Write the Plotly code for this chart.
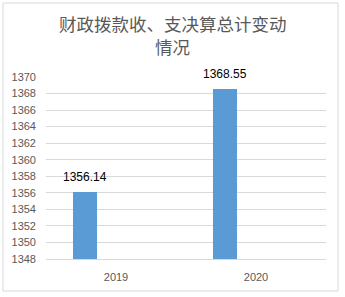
import plotly.graph_objects as go

categories = ["2019", "2020"]
values = [1356.14, 1368.55]
labels = ["1356.14", "1368.55"]
title_lines = ["财政拨款收、支决算总计变动", "情况"]
y_ticks = list(range(1348, 1371, 2))

BAR_WIDTH = 0.171
BAR_OFFSET = -0.307

fig = go.Figure()
fig.add_trace(go.Bar(
    x=categories, y=values,
    width=BAR_WIDTH, offset=BAR_OFFSET,
    marker=dict(color="#5B9BD5", line=dict(width=0)),
    hoverinfo="skip",
))

for i, (v, t) in enumerate(zip(values, labels)):
    fig.add_annotation(
        x=i + BAR_OFFSET + BAR_WIDTH / 2, y=v, xref="x", yref="y",
        text=t, showarrow=False, yshift=15, yanchor="middle",
        font=dict(size=12, color="#000000", family="Liberation Sans, Arial, sans-serif"),
    )

for line, ypx in zip(title_lines, [24, 47]):
    fig.add_annotation(
        x=(172.5 - 46) / 280, y=(259 - ypx) / 182, xref="paper", yref="paper",
        xanchor="center", yanchor="middle", showarrow=False, borderpad=0,
        text=line,
        font=dict(size=17.5, color="#595959", family="Noto Sans CJK SC, sans-serif"),
    )

fig.add_shape(type="rect", xref="paper", yref="paper",
              x0=-0.1536, x1=1.0429, y0=-0.1758, y1=1.4066,
              line=dict(color="#d9d9d9", width=1), fillcolor="rgba(0,0,0,0)", layer="below")

fig.update_layout(
    width=345, height=297,
    margin=dict(l=46, r=19, t=77, b=38),
    paper_bgcolor="white", plot_bgcolor="white",
    showlegend=False,
    bargap=0,
    font=dict(family="Liberation Sans, Arial, Noto Sans CJK SC, sans-serif", color="#595959", size=11),
    xaxis=dict(type="category", range=[-0.5, 1.5], showgrid=False,
               showline=True, linecolor="#d9d9d9", linewidth=1,
               ticks="", tickfont=dict(size=11, color="#595959"), ticklabelstandoff=8),
    yaxis=dict(range=[1348, 1370], tickvals=y_ticks, showgrid=True, gridcolor="#d9d9d9",
               gridwidth=1, zeroline=False, showline=False, ticks="",
               tickfont=dict(size=11, color="#595959"), ticklabelstandoff=9),
)

fig.write_html("out.html")
